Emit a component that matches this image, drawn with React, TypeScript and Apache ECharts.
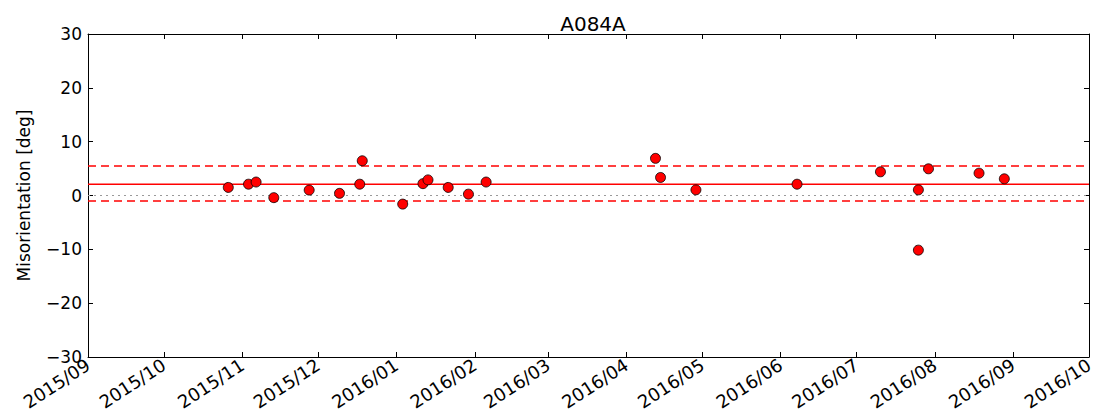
import React, { useEffect, useRef } from "react";
import * as echarts from "echarts";

const title = "A084A";
const yLabel = "Misorientation [deg]";
const monthTicks = [
  "2015-09-01", "2015-10-01", "2015-11-01", "2015-12-01", "2016-01-01",
  "2016-02-01", "2016-03-01", "2016-04-01", "2016-05-01", "2016-06-01",
  "2016-07-01", "2016-08-01", "2016-09-01", "2016-10-01",
];
const yTicks = [-30, -20, -10, 0, 10, 20, 30];

const obsDates = [
  "2015-10-26", "2015-11-03", "2015-11-06", "2015-11-13", "2015-11-27",
  "2015-12-09", "2015-12-17", "2015-12-18", "2016-01-03", "2016-01-11",
  "2016-01-13", "2016-01-21", "2016-01-29", "2016-02-05", "2016-04-12",
  "2016-04-14", "2016-04-28", "2016-06-07", "2016-07-10", "2016-07-25",
  "2016-07-25", "2016-07-29", "2016-08-18", "2016-08-28",
];
const obsValues = [
  1.5, 2.1, 2.5, -0.4, 1.0,
  0.4, 2.1, 6.45, -1.6, 2.2,
  2.9, 1.5, 0.25, 2.5, 6.9,
  3.35, 1.05, 2.1, 4.4, 1.05,
  -10.15, 4.96, 4.15, 3.1,
];
const meanLevel = 2.1;
const upperLevel = 5.5;
const lowerLevel = -1.0;
const zeroLevel = 0;

function toTime(s: string, hour = 0): number {
  const [y, m, d] = s.split("-").map(Number);
  return Date.UTC(y, m - 1, d, hour);
}

export default function App() {
  const ref = useRef<HTMLDivElement>(null);
  useEffect(() => {
    if (!ref.current) return;
    const chart = echarts.init(ref.current, null, { renderer: "svg" });
    const tickVals = monthTicks.map((s) => toTime(s));
    const tMin = tickVals[0];
    const tMax = tickVals[tickVals.length - 1];
    const font = "DejaVu Sans";
    const hline = (v: number, color: string, type: any, width: number) => ({
      type: "line",
      data: [[tMin, v], [tMax, v]],
      symbol: "none",
      silent: true,
      lineStyle: { color, type, width },
      z: 1,
    });
    const pad = (n: number) => (n < 10 ? "0" + n : "" + n);
    const xBase = {
      type: "value",
      min: tMin,
      max: tMax,
      splitLine: { show: false },
      axisLine: { show: true, onZero: false, lineStyle: { color: "#000", width: 1 } },
      axisTick: { show: true, inside: true, length: 5, customValues: tickVals, lineStyle: { color: "#000" } },
    };
    const labelStyle = { fontFamily: font, fontSize: 17, color: "#000" };
    chart.setOption({
      animation: false,
      title: {
        text: title,
        left: 588,
        textAlign: "center",
        top: 9,
        textStyle: { fontFamily: font, fontSize: 20, fontWeight: "normal", color: "#000" },
      },
      grid: { left: 88, right: 10, top: 34, bottom: 60 },
      xAxis: [
        {
          ...xBase,
          position: "bottom",
          axisLabel: {
            show: true,
            rotate: 33,
            margin: 6,
            fontFamily: font,
            fontSize: 18,
            color: "#000",
            customValues: tickVals,
            showMinLabel: true,
            showMaxLabel: true,
            hideOverlap: false,
            formatter: (v: number) => {
              const d = new Date(v);
              return d.getUTCFullYear() + "/" + pad(d.getUTCMonth() + 1);
            },
          },
        },
        {
          ...xBase,
          position: "top",
          axisLabel: { show: false },
        },
      ],
      yAxis: [
        {
          type: "value",
          min: -30,
          max: 30,
          interval: 10,
          name: yLabel,
          nameLocation: "middle",
          nameGap: 56,
          nameTextStyle: { fontFamily: font, fontSize: 17, color: "#000" },
          splitLine: { show: false },
          axisLine: { show: true, onZero: false, lineStyle: { color: "#000", width: 1 } },
          axisTick: { show: true, inside: true, length: 5, lineStyle: { color: "#000" } },
          axisLabel: {
            margin: 6,
            ...labelStyle,
            formatter: (v: number) => (yTicks.includes(v) ? (v < 0 ? "\u2212" + Math.abs(v) : String(v)) : ""),
          },
        },
        {
          type: "value",
          min: -30,
          max: 30,
          interval: 10,
          position: "right",
          splitLine: { show: false },
          axisLine: { show: true, onZero: false, lineStyle: { color: "#000", width: 1 } },
          axisTick: { show: true, inside: true, length: 5, lineStyle: { color: "#000" } },
          axisLabel: { show: false },
        },
      ],
      series: [
        hline(zeroLevel, "#999999", [2, 4], 1.2),
        hline(meanLevel, "#ff0000", "solid", 1.5),
        hline(upperLevel, "#ff0000", [8, 5], 1.5),
        hline(lowerLevel, "#ff0000", [8, 5], 1.5),
        {
          type: "scatter",
          data: obsDates.map((d, i) => [toTime(d, 12), obsValues[i]]),
          symbol: "circle",
          symbolSize: 10,
          itemStyle: { color: "#ff0000", borderColor: "#000", borderWidth: 0.8, opacity: 1 },
          z: 5,
        },
      ],
    });
    return () => chart.dispose();
  }, []);
  return (
    <div
      ref={ref}
      style={{ position: "fixed", left: 0, top: 0, width: 1099, height: 417, background: "#fff" }}
    />
  );
}
